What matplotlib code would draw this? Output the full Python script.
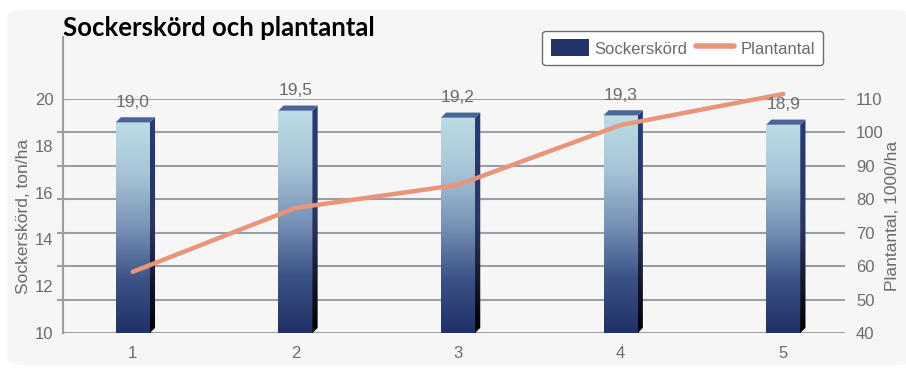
import numpy as np
import matplotlib.pyplot as plt
from matplotlib.patches import Patch, Polygon, FancyBboxPatch
from matplotlib.lines import Line2D
from matplotlib.colors import LinearSegmentedColormap

# data
categories = ['1', '2', '3', '4', '5']
sockerskord = [19.0, 19.5, 19.2, 19.3, 18.9]
bar_labels = ['19,0', '19,5', '19,2', '19,3', '18,9']
plantantal = [58.3, 77.4, 84.3, 102.2, 111.5]
left_ticks = [10, 12, 14, 16, 18, 20]
right_ticks = [40, 50, 60, 70, 80, 90, 100, 110]

plt.rcParams['font.family'] = ['Liberation Sans', 'DejaVu Sans']

grey = '#6b6b6b'
gridc = '#9a9ea5'
salmon = '#e8957a'
navy = '#22346a'
fs = 12

fig = plt.figure(figsize=(9.06, 3.69), dpi=100)
fig.patches.append(FancyBboxPatch((7/906, 4/369), 905/906, 355/369,
                                  boxstyle='round,pad=0,rounding_size=0.02',
                                  transform=fig.transFigure, fc='#f6f6f6', ec='none', zorder=-10))

ax = fig.add_axes([63/906, 1-333/369, (845-63)/906, (333-99)/369])
ax.set_facecolor('none')
ax2 = ax.twinx()
ax.set_zorder(2)
ax2.set_zorder(1)

x = np.arange(1, len(categories)+1)
ymin, ymax = 10, 20
x_lo, x_hi = 0.571, 5.38

# gridlines from right axis
for t in right_ticks:
    ax2.axhline(t, color=gridc, lw=1.5, zorder=0)

front = LinearSegmentedColormap.from_list('front', ['#1f3166', '#3c5287', '#7892b6', '#a7c4d6', '#bcdce5'])
side = LinearSegmentedColormap.from_list('side', ['#000000', '#2b3560', '#263a78'])
grad = np.linspace(0, 1, 256).reshape(-1, 1)

w = 0.21
dx, dy = 0.032, 0.22
bars = ax.bar(x, np.array(sockerskord)-ymin, bottom=ymin, width=w, color='none', zorder=3)
for b, v in zip(bars, sockerskord):
    x0 = b.get_x(); x1 = x0 + w
    im = ax.imshow(grad, extent=[x0, x1, ymin, v], origin='lower', cmap=front,
                   aspect='auto', zorder=3)
    im.set_clip_path(b)
    sp = Polygon([[x1, ymin], [x1+dx, ymin+dy], [x1+dx, v+dy], [x1, v]], closed=True,
                 fc='none', ec='none', zorder=3)
    ax.add_patch(sp)
    im2 = ax.imshow(grad, extent=[x1, x1+dx, ymin, v+dy], origin='lower', cmap=side,
                    aspect='auto', zorder=3)
    im2.set_clip_path(sp)
    tp = Polygon([[x0, v], [x0+dx, v+dy], [x1+dx, v+dy], [x1, v]], closed=True,
                 fc='#4a6498', ec='none', zorder=3, clip_on=False)
    ax.add_patch(tp)
ax.set_xlim(x_lo, x_hi)
ax.set_ylim(ymin, ymax)
ax2.set_ylim(40, 110)

for xi, v, lab in zip(x, sockerskord, bar_labels):
    ax.annotate(lab, (xi, v), xytext=(0, 9), textcoords='offset points',
                ha='center', va='bottom', fontsize=fs+0.5, color=grey, zorder=5,
                annotation_clip=False)

ax.plot(x, np.array(plantantal), lw=3.2, color=salmon, solid_capstyle='round',
        transform=ax2.transData, zorder=4, clip_on=False)

# axes styling
for a in (ax, ax2):
    for s in a.spines.values():
        s.set_visible(False)
ax.axvline(x_lo, ymin=0, ymax=1.265, color=gridc, lw=1.5, clip_on=False, zorder=1)
ax.set_yticks(left_ticks)
ax.set_yticks([ymin + k*(ymax-ymin)/7 for k in range(8)], minor=True)
ax.tick_params(axis='y', which='major', length=0, labelsize=fs, labelcolor=grey, pad=7)
ax.tick_params(axis='y', which='minor', length=4, width=1.5, color=gridc)
ax.set_xticks(x)
ax.set_xticklabels(categories)
ax.tick_params(axis='x', length=0, labelsize=fs, labelcolor=grey, pad=9)
ax2.set_yticks(right_ticks)
ax2.tick_params(axis='y', length=0, labelsize=fs, labelcolor=grey, pad=8)

ax.set_ylabel('Sockerskörd, ton/ha', fontsize=fs+0.5, color=grey)
ax.yaxis.set_label_coords(-0.041, 0.5)
ax2.set_ylabel('Plantantal, 1000/ha', fontsize=fs+0.5, color=grey)
ax2.yaxis.set_label_coords(1.051, 0.5)

fig.text(63/906, 1-28/369, 'Sockerskörd och plantantal', fontsize=18.5, fontweight='bold',
         family=['Lato', 'DejaVu Sans'], va='center', ha='left')

handles = [Patch(fc=navy, ec='none'), Line2D([], [], color=salmon, lw=4, solid_capstyle='round')]
leg = fig.legend(handles, ['Sockerskörd', 'Plantantal'], loc='upper right',
                 bbox_to_anchor=(823/906, 1-31/369), borderaxespad=0, ncol=2, fontsize=fs,
                 frameon=True, fancybox=True, edgecolor='#7a6b62', facecolor='white',
                 handlelength=2.3, handleheight=1.2, columnspacing=0.5, handletextpad=0.35,
                 borderpad=0.5)
leg.get_frame().set_alpha(1)
for t in leg.get_texts():
    t.set_color(grey)

fig.savefig('out.png', dpi=100)
